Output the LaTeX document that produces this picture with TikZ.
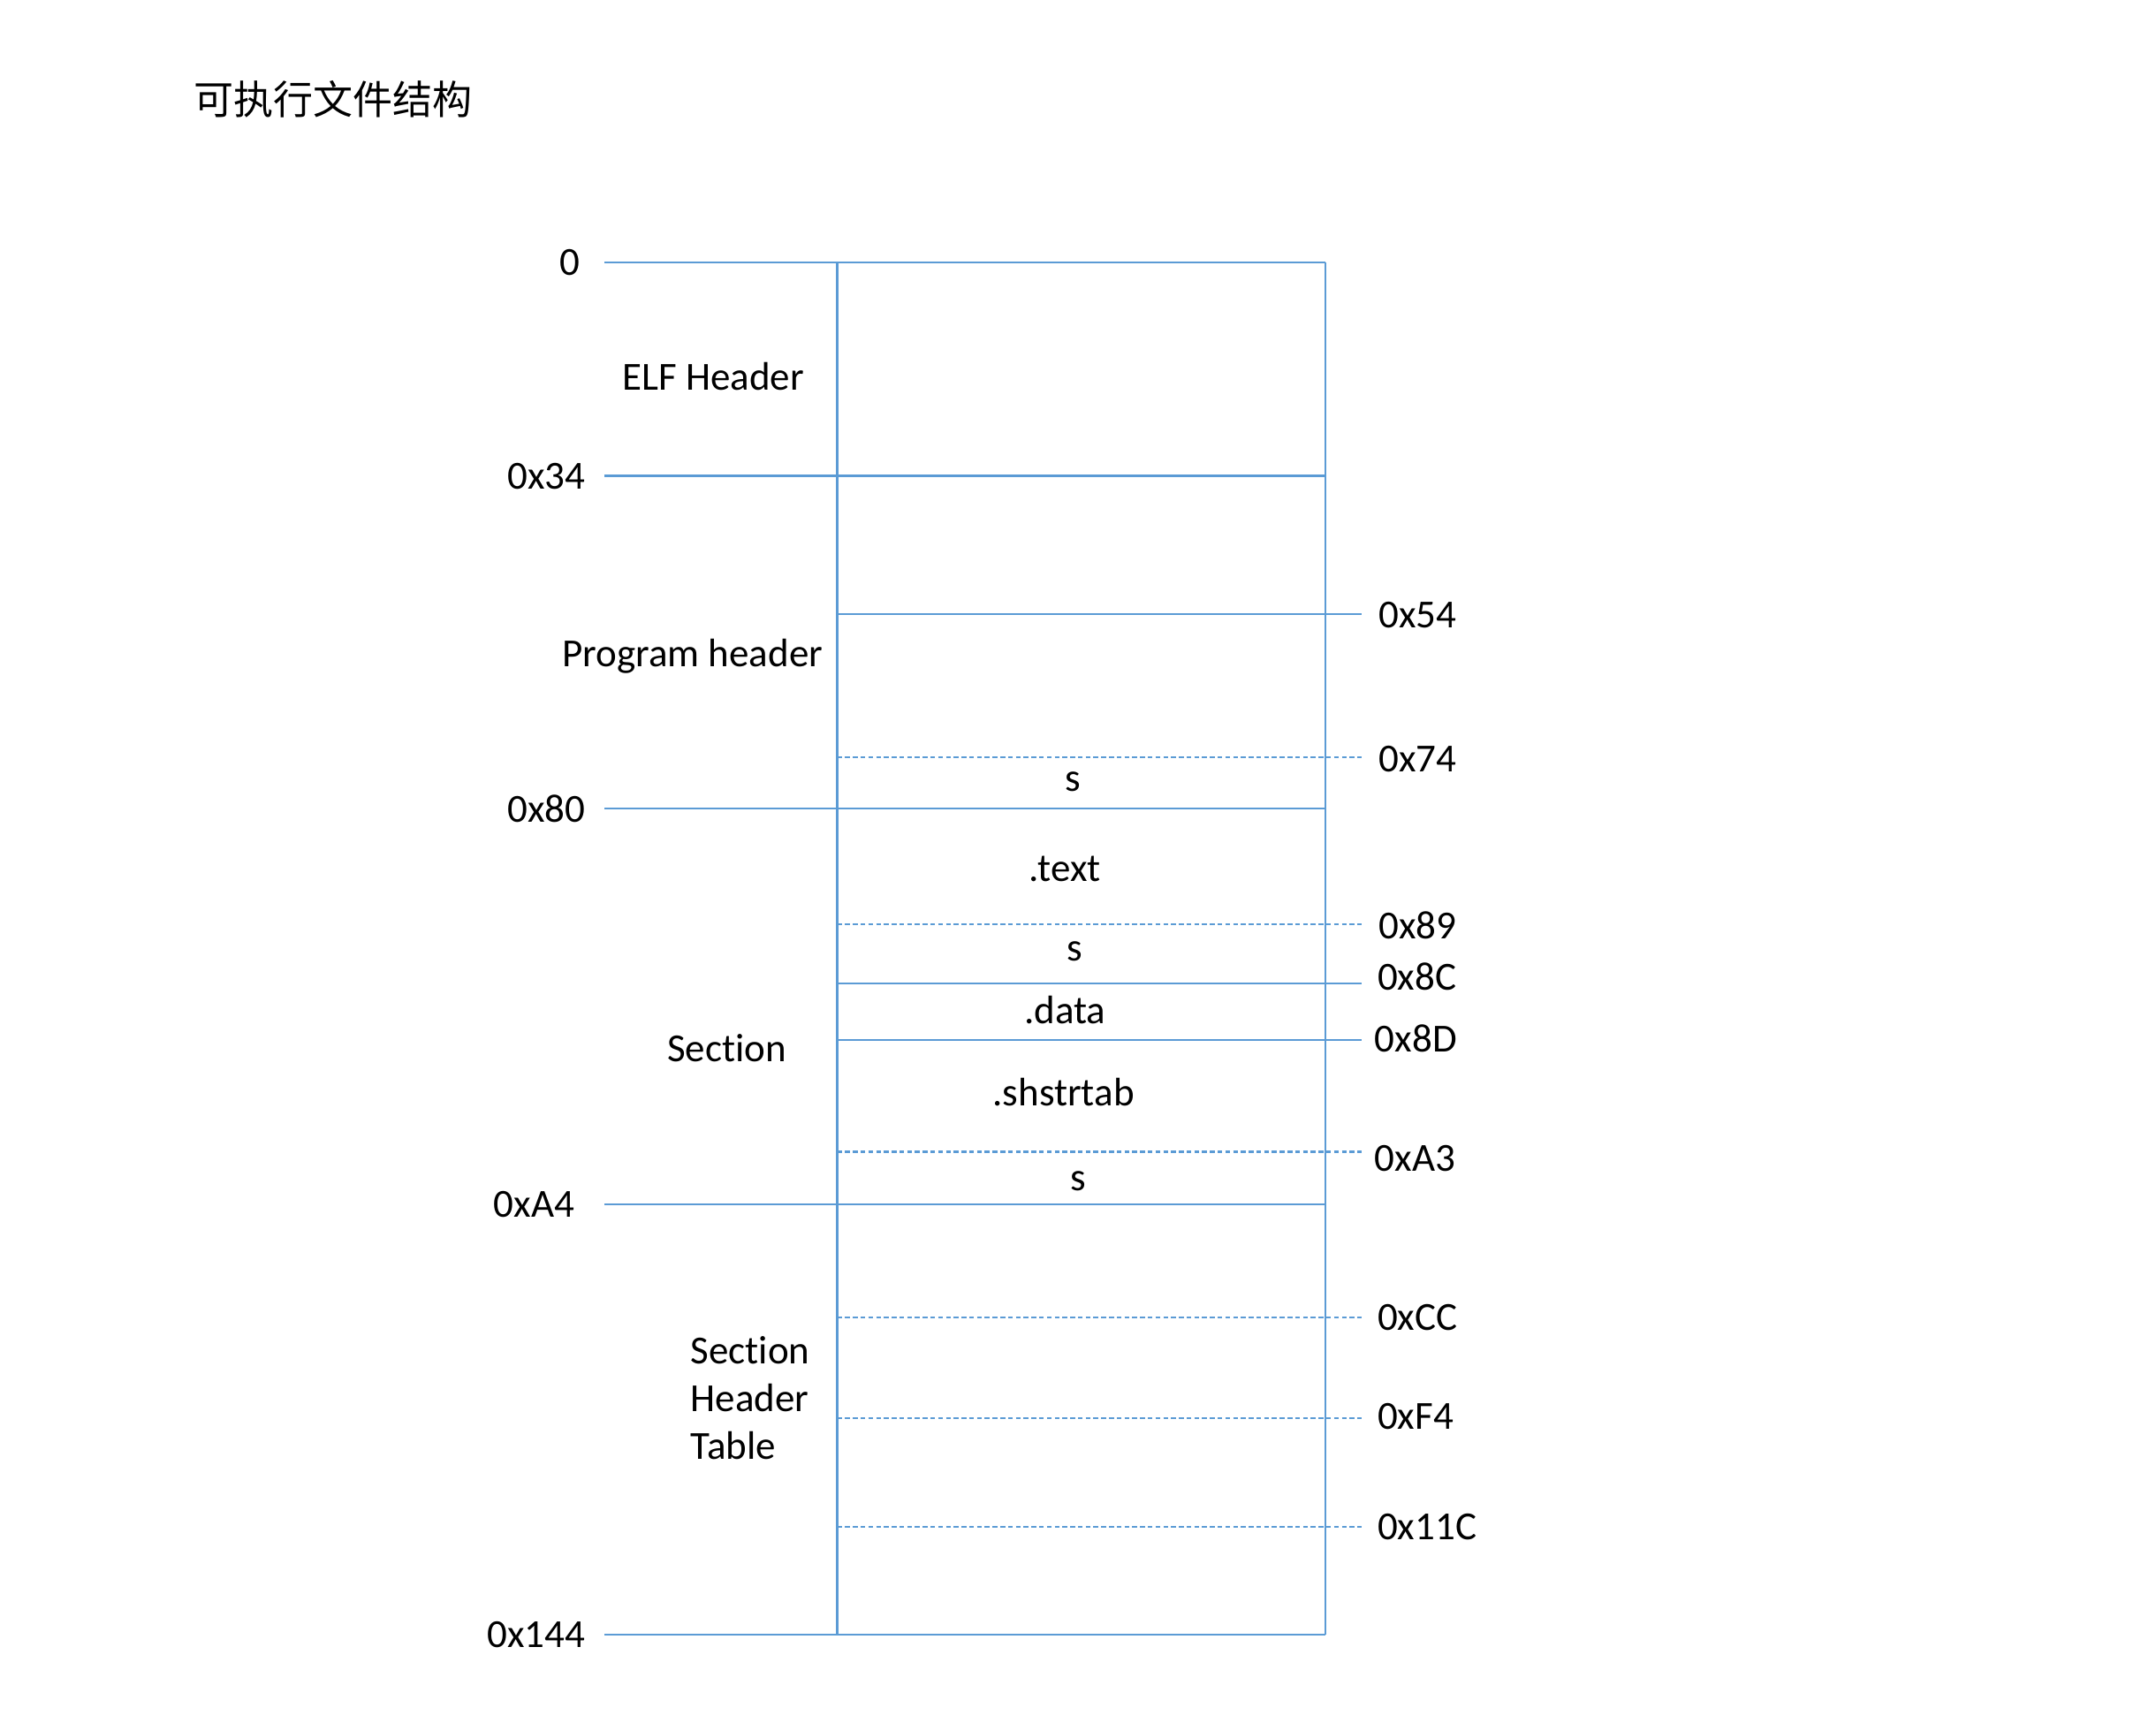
\documentclass[tikz,border=0pt]{standalone}
\usepackage{fontspec}
\setmainfont{Carlito}[Ligatures=NoCommon]
\newfontfamily\cjk{Noto Sans CJK SC}
\usepackage{tikz}
\usetikzlibrary{positioning}
\definecolor{lineBlue}{HTML}{5B9BD5}

\begin{document}
\begin{tikzpicture}[
				x=0.01cm, y=-0.01cm,
				font=\fontsize{8.2}{9.9}\selectfont,
				% Line Styles
				solidline/.style={draw=lineBlue, line width=0.4pt},
				dashline/.style={solidline, dash pattern=on 1pt off 0.6pt},
				% Label Styles
				addrleft/.style={inner sep=0pt, anchor=east},
				addrright/.style={inner sep=0pt, anchor=west},
				part/.style={inner sep=0pt, align=center},
				cell/.style={inner sep=0pt}
				]
				\useasboundingbox (0,0) rectangle (1563,1249);
				
				%% ================= TITLE =================
				\node[inner sep=0pt, anchor=west, font=\cjk\fontsize{8.2}{9.9}\selectfont] (title) at (140,72) {可执行文件结构};
				
				%% ================= BOX =================
				\coordinate (boxtl) at (607,190);
				\coordinate (boxbl) at (607,1185);
				\coordinate (boxtr) at (961,190);
				\coordinate (boxbr) at (961,1185);
				\draw[solidline] (boxtl) -- (boxbl);
				\draw[solidline] (boxtr) -- (boxbr);
				
				% Left boundaries (file parts)
				\foreach \y/\name/\lx/\txt in {190/zero/421/0, 345/ehend/425/0x34, 586/secstart/425/0x80, 873/shtstart/417/0xA4, 1185/fileend/425/0x144} {
					\coordinate (L\name) at (438,\y);
					\coordinate (R\name) at (961,\y);
					\draw[solidline] (L\name) -- (R\name);
					\node[addrleft] (addr\name) at (\lx,\y) {\txt};
				}
				
				% Right boundaries (solid)
				\foreach \y/\name/\txt in {445/phend/0x54, 713/textend/0x8C, 754/dataend/0x8D} {
					\coordinate (L\name) at (607,\y);
					\coordinate (R\name) at (987,\y);
					\draw[solidline] (L\name) -- (R\name);
				}
				\node[addrright] (addrphend) at (999,446) {0x54};
				\node[addrright] (addrtextend) at (998,708) {0x8C};
				\node[addrright] (addrdataend) at (996,753) {0x8D};
				
				% Right boundaries (dashed)
				\foreach \y/\name/\lx/\ly/\txt in {549/padone/999/550/0x74, 670/padtwo/999/671/0x89, 835/padthree/996/840/0xA3, 955/shone/998/955/0xCC, 1028/shtwo/998/1027/0xF4, 1107/shthree/998/1107/0x11C} {
					\coordinate (L\name) at (607,\y);
					\coordinate (R\name) at (987,\y);
					\draw[dashline] (L\name) -- (R\name);
					\node[addrright] (addr\name) at (\lx,\ly) {\txt};
				}
				
				%% ================= PART NAMES =================
				\node[part] (elfheader) at (517,273) {ELF Header};
				\node[part] (progheader) at (502,476) {Program header};
				\node[part] (section) at (527,760) {Section};
				\node[part, align=left, anchor=north west] (shtable) at (500,968) {Section\\Header\\Table};
				
				%% ================= SECTIONS =================
				\node[cell] (padsone) at (778,567) {s};
				\node[cell] (textsec) at (772,630) {.text};
				\node[cell] (padstwo) at (779,690) {s};
				\node[cell] (datasec) at (772,732) {.data};
				\node[cell] (shstrtab) at (771,792) {.shstrtab};
				\node[cell] (padsthree) at (782,856) {s};
				
			\end{tikzpicture}
\end{document}
